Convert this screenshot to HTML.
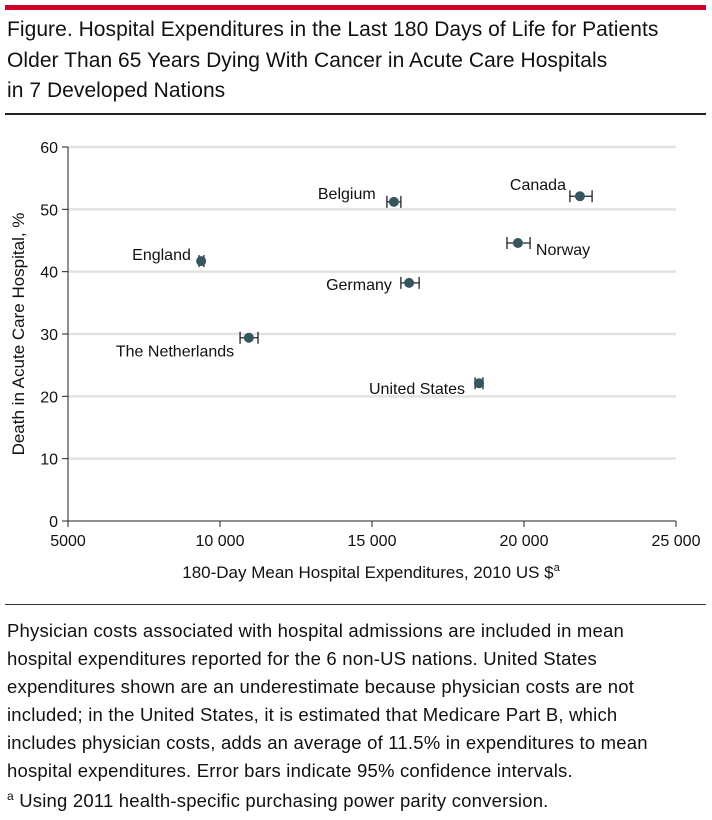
<!DOCTYPE html>
<html><head><meta charset="utf-8"><style>
body{margin:0;background:#fff;width:712px;height:820px;overflow:hidden;font-family:"Liberation Sans",sans-serif;}
.ln{white-space:nowrap;display:block}
</style></head><body>
<div style="position:absolute;left:5px;top:5px;width:701px;height:5px;background:#d0002a"></div>
<div style="position:absolute;left:7px;top:15px;width:705px;font-size:21px;line-height:30.5px;color:#111;letter-spacing:0.05px"><span class="ln">Figure. Hospital Expenditures in the Last 180 Days of Life for Patients</span><span class="ln">Older Than 65 Years Dying With Cancer in Acute Care Hospitals</span><span class="ln">in 7 Developed Nations</span></div>
<div style="position:absolute;left:5px;top:113px;width:701px;height:2px;background:#222"></div>
<svg width="712" height="600" style="position:absolute;left:0;top:0" id="chart"></svg>
<div style="position:absolute;left:5px;top:604px;width:701px;height:1px;background:#333"></div>
<div style="position:absolute;left:7px;top:617px;width:705px;font-size:18.5px;line-height:28px;color:#111;letter-spacing:0.2px"><span class="ln">Physician costs associated with hospital admissions are included in mean</span><span class="ln">hospital expenditures reported for the 6 non-US nations. United States</span><span class="ln">expenditures shown are an underestimate because physician costs are not</span><span class="ln">included; in the United States, it is estimated that Medicare Part B, which</span><span class="ln">includes physician costs, adds an average of 11.5% in expenditures to mean</span><span class="ln">hospital expenditures. Error bars indicate 95% confidence intervals.</span></div>
<div style="position:absolute;left:7px;top:789px;font-size:18.5px;color:#111;letter-spacing:0.2px;white-space:nowrap"><sup style="font-size:12px">a</sup> Using 2011 health-specific purchasing power parity conversion.</div>
<script>
const countries=["Canada","Belgium","Norway","Germany","England","The Netherlands","United States"];
const spend=[21840,15720,19800,16220,9380,10950,18520];
const lo=[21510,15490,19440,15950,9310,10660,18390];
const hi=[22240,15950,20200,16550,9470,11250,18650];
const death=[52.1,51.2,44.6,38.2,41.7,29.4,22.1];
const xTicks=[5000,10000,15000,20000,25000];
const xTickLabels=["5000","10 000","15 000","20 000","25 000"];
const yTicks=[0,10,20,30,40,50,60];
const lblDx=[-70,-76,18,-83,-69,-133,-110], lblDy=[-6,-3,12,7,-1,19,11];
const svg=document.getElementById('chart'),NS='http://www.w3.org/2000/svg';
const X=v=>68+(v-5000)*608/20000, Y=v=>521-v*374/60;
function mk(t,a,p,name){const e=document.createElementNS(NS,t);for(const k in a)e.setAttribute(k,a[k]);(p||svg).appendChild(e);return e;}
yTicks.forEach(v=>{if(v>0){mk('line',{x1:68,x2:676,y1:Y(v),y2:Y(v),stroke:'#e2e2e2','stroke-width':2.5},null,'y-gridline');}
 mk('line',{x1:62,x2:68,y1:Y(v),y2:Y(v),stroke:'#222'},null,'y-tick');
 const t=mk('text',{x:58,y:Y(v)+6,'text-anchor':'end','font-size':16,fill:'#111'},null,'y-tick-label');t.textContent=v;});
xTicks.forEach((v,i)=>{mk('line',{x1:X(v),x2:X(v),y1:521,y2:527,stroke:'#222'},null,'x-tick');
 const t=mk('text',{x:X(v),y:546,'text-anchor':'middle','font-size':16,fill:'#111'},null,'x-tick-label');t.textContent=xTickLabels[i];});
mk('line',{x1:68,x2:68,y1:147,y2:521,stroke:'#222'},null,'y-axis');
mk('line',{x1:68,x2:676,y1:521,y2:521,stroke:'#222'},null,'x-axis');
let t=mk('text',{x:371,y:578,'text-anchor':'middle','font-size':17,fill:'#111'},null,'x-axis-title');t.innerHTML='180-Day Mean Hospital Expenditures, 2010 US $<tspan font-size="11" dy="-7">a</tspan>';
t=mk('text',{x:24,y:334,'text-anchor':'middle','font-size':17,fill:'#111',transform:'rotate(-90 24 334)'},null,'y-axis-title');t.textContent='Death in Acute Care Hospital, %';
countries.forEach((c,i)=>{const y=Y(death[i]);
 mk('line',{x1:X(lo[i]),x2:X(hi[i]),y1:y,y2:y,stroke:'#222','stroke-width':1.3},null,'error-bar');
 mk('line',{x1:X(lo[i]),x2:X(lo[i]),y1:y-6,y2:y+6,stroke:'#222','stroke-width':1.3},null,'error-cap');
 mk('line',{x1:X(hi[i]),x2:X(hi[i]),y1:y-6,y2:y+6,stroke:'#222','stroke-width':1.3},null,'error-cap');
 mk('circle',{cx:X(spend[i]),cy:y,r:5,fill:'#35555f'},null,'point-'+c.toLowerCase().replace(/ /g,'-'));
 const l=mk('text',{x:X(spend[i])+lblDx[i],y:y+lblDy[i],'font-size':16,fill:'#111'},null,'label-'+c.toLowerCase().replace(/ /g,'-'));l.textContent=c;});
</script>
</body></html>
